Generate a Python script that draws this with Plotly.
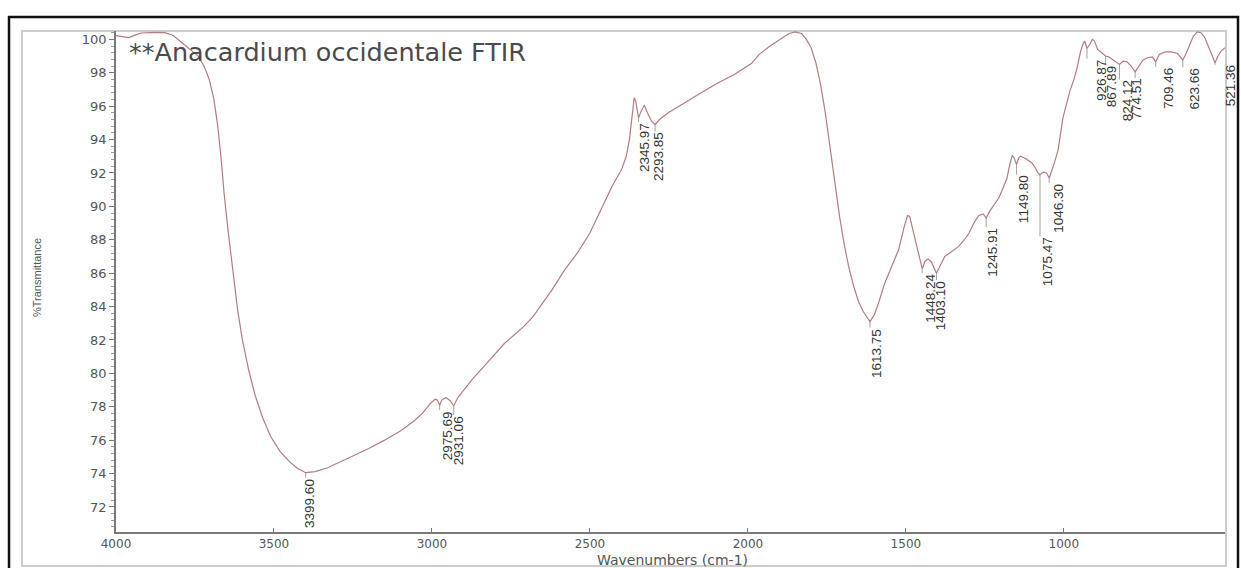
import numpy as np
import plotly.graph_objects as go

# ---------------- data ----------------
wavenumber = [
    4000, 3980, 3960, 3940, 3920, 3880, 3845, 3820, 3800, 3780, 3760, 3740, 3720, 3705, 3690,
    3678, 3668, 3658, 3645, 3630, 3615, 3600, 3580, 3560, 3535, 3510, 3480, 3450, 3425, 3399.6,
    3370, 3330, 3290, 3250, 3200, 3150, 3100, 3060, 3030, 3005, 2990, 2983, 2975.69, 2968, 2955,
    2942, 2931.06, 2918, 2900, 2870, 2836, 2800, 2770, 2740, 2710, 2680, 2650, 2620, 2580, 2540,
    2500, 2465, 2430, 2400, 2385, 2375, 2368, 2360, 2355, 2345.97, 2338, 2328, 2318, 2305, 2293.85,
    2280, 2252, 2202, 2148, 2094, 2043, 1989, 1964, 1930, 1900, 1870, 1850, 1830, 1815, 1800,
    1785, 1770, 1755, 1740, 1725, 1710, 1695, 1680, 1665, 1650, 1635, 1620, 1613.75, 1600, 1585,
    1567, 1545, 1523, 1505, 1495, 1488, 1478, 1468, 1458, 1448.24, 1440, 1430, 1420, 1410, 1403.1,
    1390, 1377, 1355, 1333, 1315, 1300, 1285, 1269, 1255, 1245.91, 1235, 1220, 1206, 1190, 1180,
    1170, 1163, 1157, 1149.8, 1143, 1137, 1120, 1101, 1090, 1082, 1075.47, 1065, 1055, 1046.3, 1030,
    1018, 1003, 990, 981, 968, 958, 948, 940, 934, 926.87, 918, 910, 903, 893, 880,
    867.89, 858, 845, 835, 824.12, 812, 800, 787, 774.51, 762, 750, 735, 720, 709.46, 698,
    680, 660, 640, 623.66, 612, 600, 590, 578, 566, 555, 545, 535, 521.36, 512, 502,
    490,
]
transmittance = [
    100.22, 100.15, 100.10, 100.25, 100.38, 100.42, 100.40, 100.25, 99.95, 99.65, 99.35, 99.00, 98.35, 97.60, 96.40,
    94.80, 93.00, 90.80, 88.50, 86.00, 83.80, 82.00, 80.20, 78.70, 77.30, 76.20, 75.30, 74.70, 74.30, 74.05,
    74.12, 74.35, 74.70, 75.05, 75.50, 76.00, 76.55, 77.10, 77.60, 78.20, 78.45, 78.40, 78.10, 78.42, 78.55,
    78.35, 78.05, 78.55, 79.00, 79.70, 80.40, 81.20, 81.80, 82.30, 82.80, 83.40, 84.20, 85.00, 86.20, 87.20,
    88.40, 89.80, 91.20, 92.20, 93.00, 94.00, 95.20, 96.50, 96.30, 95.30, 95.70, 96.05, 95.60, 95.10, 94.90,
    95.20, 95.60, 96.20, 96.80, 97.40, 97.90, 98.55, 99.10, 99.60, 100.00, 100.35, 100.45, 100.35, 100.00, 99.50,
    98.60, 97.30, 95.60, 93.50, 91.30, 89.40, 87.70, 86.30, 85.20, 84.30, 83.70, 83.25, 83.10, 83.50, 84.30,
    85.40, 86.40, 87.40, 88.80, 89.45, 89.40, 88.60, 87.70, 86.90, 86.25, 86.70, 86.85, 86.70, 86.30, 86.00,
    86.50, 87.00, 87.30, 87.60, 88.00, 88.40, 89.00, 89.45, 89.55, 89.30, 89.70, 90.10, 90.50, 91.20, 91.70,
    92.60, 93.05, 92.90, 92.50, 92.90, 93.00, 92.85, 92.60, 92.30, 92.00, 91.90, 92.05, 92.00, 91.70, 92.60,
    93.40, 95.30, 96.30, 96.90, 97.60, 98.30, 99.20, 99.70, 99.90, 99.45, 99.70, 100.00, 99.90, 99.40, 99.20,
    99.00, 98.95, 98.75, 98.65, 98.50, 98.70, 98.65, 98.40, 98.05, 98.40, 98.75, 98.90, 98.95, 98.65, 99.10,
    99.25, 99.25, 99.15, 98.75, 99.20, 99.80, 100.20, 100.45, 100.40, 100.15, 99.70, 99.20, 98.60, 99.00, 99.30,
    99.50,
]

peak_wavenumbers = [3399.60, 2975.69, 2931.06, 2345.97, 2293.85, 1613.75, 1448.24, 1403.10,
                    1245.91, 1149.80, 1075.47, 1046.30, 926.87, 867.89, 824.12, 774.51,
                    709.46, 623.66, 521.36]
peak_labels = ["3399.60", "2975.69", "2931.06", "2345.97", "2293.85", "1613.75", "1448.24",
               "1403.10", "1245.91", "1149.80", "1075.47", "1046.30", "926.87", "867.89",
               "824.12", "774.51", "709.46", "623.66", "521.36"]

x_ticks = [4000, 3500, 3000, 2500, 2000, 1500, 1000]
y_ticks = list(range(72, 101, 2))

title_text = "**Anacardium occidentale FTIR"
x_title = "Wavenumbers (cm-1)"
y_title = "%Transmittance"

# ---------------- layout / style ----------------
W, H = 1241, 568
ML, MR, MT, MB = 116, 16, 31, 36
PW, PH = W - ML - MR, H - MT - MB
X_RANGE = [4000, 490]
Y_RANGE = [70.5, 100.5]
PX_PER_UNIT = PH / (Y_RANGE[1] - Y_RANGE[0])

# per-label placement (pixel offsets): (dx from marker, gap below curve)
LABEL_PLACE = [(4, 5), (8, 5), (5, 9), (6, 4), (3, 7), (6, 6), (8, 4), (4, 7),
               (6, 9), (7, 10), (7, 62), (9, 5), (14, 10), (6, 9), (8, 15), (1, 6),
               (13, 5), (12, 7), (15, 2)]

LINE_COLOR = "#b47c83"
TEXT_GRAY = "#555555"
AXIS_GRAY = "#7a7a7a"


def px_to_paper_x(px):
    return (px - ML) / PW


def py_to_paper_y(py):
    return (H - MB - py) / PH


fig = go.Figure()

fig.add_trace(go.Scatter(
    x=wavenumber, y=transmittance, mode="lines",
    line=dict(color=LINE_COLOR, width=1.2), hoverinfo="skip", showlegend=False,
))

# peak markers
wn_arr = np.array(wavenumber[::-1], dtype=float)
t_arr = np.array(transmittance[::-1], dtype=float)
mx, my = [], []
annotations = []
for wn, lab, (dx, gap) in zip(peak_wavenumbers, peak_labels, LABEL_PLACE):
    t = float(np.interp(wn, wn_arr, t_arr))
    mx += [wn, wn, None]
    my += [t, t - gap / PX_PER_UNIT, None]
    annotations.append(dict(
        x=wn, y=t, xref="x", yref="y", text=lab, showarrow=False,
        textangle=-90, xanchor="center", yanchor="top",
        xshift=dx, yshift=-gap, borderpad=0,
        font=dict(family="Liberation Sans, Arial, sans-serif", size=13.5, color="#333333"),
    ))

fig.add_trace(go.Scatter(
    x=mx, y=my, mode="lines", line=dict(color="#8a8a8a", width=0.8),
    hoverinfo="skip", showlegend=False,
))

annotations += [
    dict(x=px_to_paper_x(127), y=py_to_paper_y(52), xref="paper", yref="paper",
         text=title_text, showarrow=False, xanchor="left", yanchor="middle",
         font=dict(family="DejaVu Sans, sans-serif", size=25.5, color="#4a4a4a")),
    dict(x=px_to_paper_x(672), y=py_to_paper_y(560), xref="paper", yref="paper",
         text=x_title, showarrow=False, xanchor="center", yanchor="middle",
         font=dict(family="DejaVu Sans, sans-serif", size=14, color=TEXT_GRAY)),
    dict(x=px_to_paper_x(37), y=py_to_paper_y(278), xref="paper", yref="paper",
         text=y_title, showarrow=False, xanchor="center", yanchor="middle", textangle=-90,
         font=dict(family="Liberation Sans, Arial, sans-serif", size=11, color=TEXT_GRAY)),
]

shapes = [
    # light grey outer frame
    dict(type="rect", xref="paper", yref="paper",
         x0=px_to_paper_x(22), x1=px_to_paper_x(1226),
         y0=py_to_paper_y(566), y1=py_to_paper_y(31),
         line=dict(color="#bdbdbd", width=1.5), layer="below"),
    # black border
    dict(type="rect", xref="paper", yref="paper",
         x0=px_to_paper_x(9), x1=px_to_paper_x(1238),
         y0=py_to_paper_y(572), y1=py_to_paper_y(17),
         line=dict(color="#111111", width=2.5), layer="above"),
]

fig.update_layout(
    width=W, height=H, autosize=False,
    margin=dict(l=ML, r=MR, t=MT, b=MB, pad=0),
    paper_bgcolor="white", plot_bgcolor="white",
    showlegend=False,
    annotations=annotations, shapes=shapes,
    xaxis=dict(
        range=X_RANGE, tickvals=x_ticks, ticktext=[str(v) for v in x_ticks],
        ticks="inside", ticklen=4, tickcolor=AXIS_GRAY, tickwidth=1,
        showline=True, linecolor=AXIS_GRAY, linewidth=1.5, mirror=False,
        showgrid=False, zeroline=False,
        tickfont=dict(family="DejaVu Sans, sans-serif", size=12, color=TEXT_GRAY),
    ),
    yaxis=dict(
        range=Y_RANGE, tickvals=y_ticks, ticktext=[str(v) for v in y_ticks],
        ticks="outside", ticklen=5, tickcolor=AXIS_GRAY, tickwidth=1,
        minor=dict(dtick=0.4, tick0=0, ticks="outside", ticklen=3, tickcolor="#9a9a9a", tickwidth=0.8),
        showline=True, linecolor=AXIS_GRAY, linewidth=1.5, mirror=False,
        showgrid=False, zeroline=False,
        tickfont=dict(family="DejaVu Sans, sans-serif", size=13, color=TEXT_GRAY),
    ),
)

fig.write_html(
    "out.html",
    config={"displayModeBar": False},
    post_script="document.body.style.margin='0';document.body.style.overflow='hidden';",
)
